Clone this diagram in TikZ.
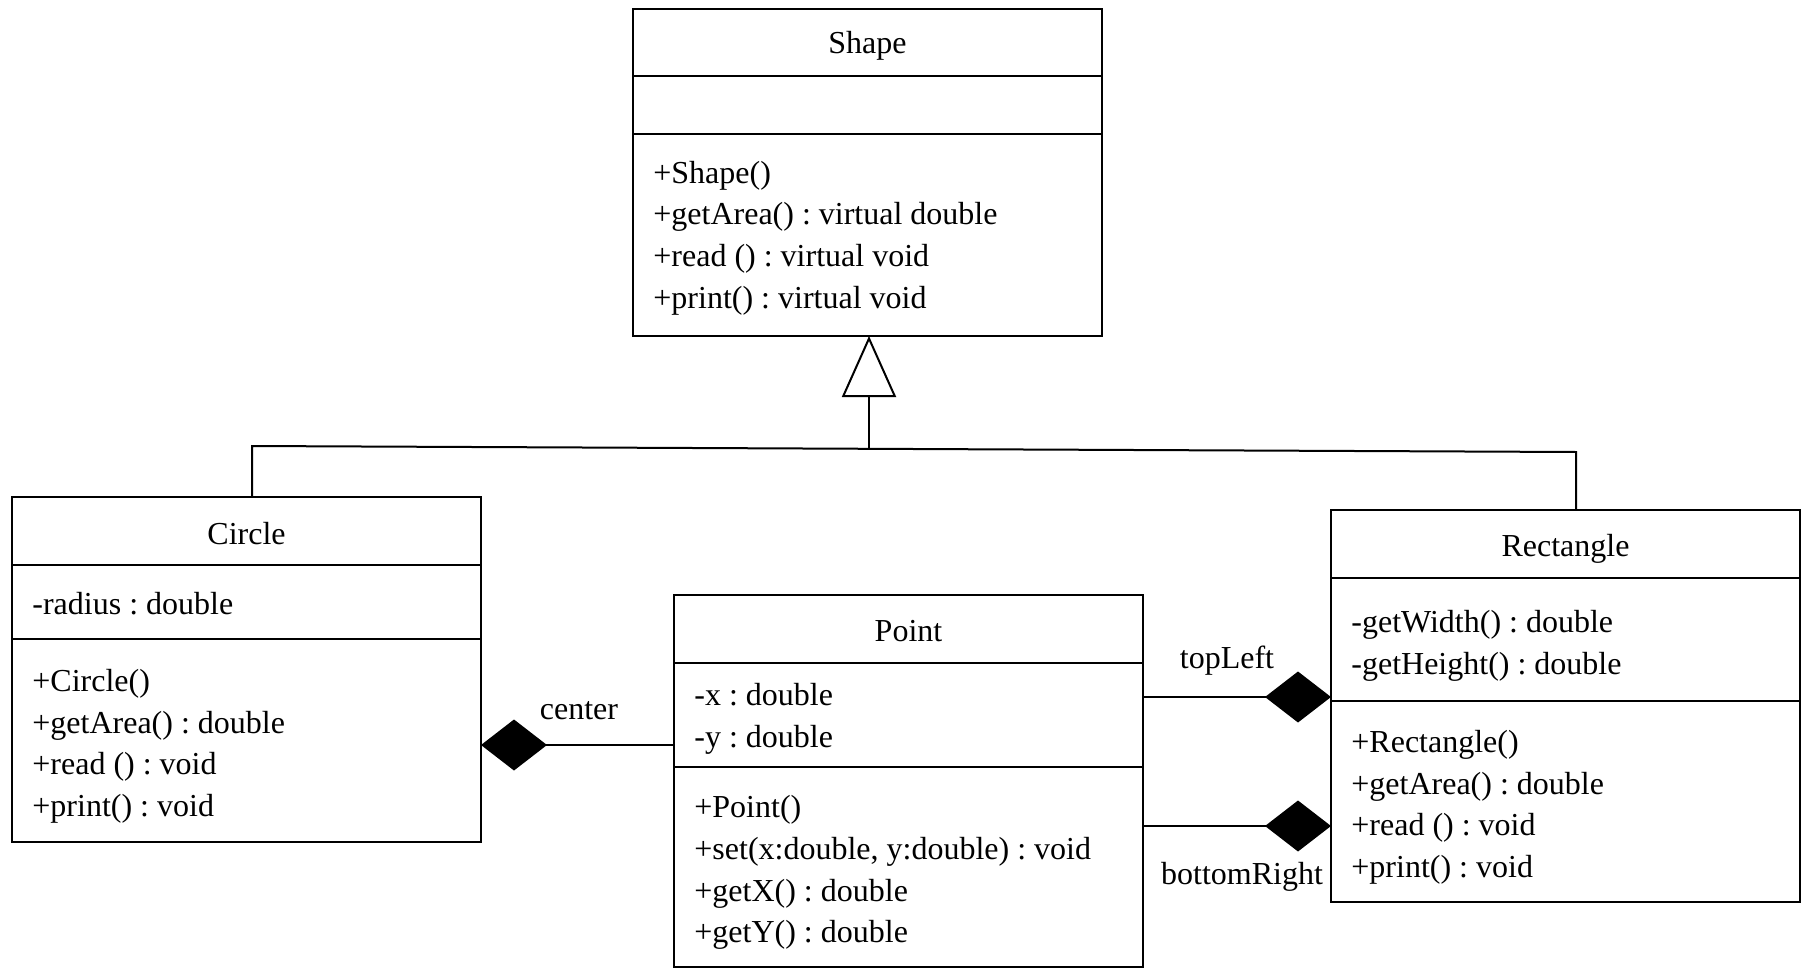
\documentclass[tikz,border=0pt]{standalone}
\usepackage{fontspec}
\setmainfont{Liberation Serif}
\usetikzlibrary{arrows.meta}
\tikzset{
  comp/.style={draw, line width=1pt, minimum width=234.5pt, anchor=north west,
    inner sep=0pt, outer sep=0pt},
  txt/.style={inner sep=0pt, font=\fontsize{16}{20.8}\selectfont\frenchspacing},
  titletext/.style={txt, align=center},
  bodytext/.style={txt, align=left, anchor=west},
  lbl/.style={txt},
  conn/.style={line width=1pt},
  compo/.style={conn, {Diamond[length=33pt,width=25.5pt,fill=black]}-},
  inherit/.style={conn, -{Triangle[open,length=30.5pt,width=27pt,line width=1pt]}}
}
\begin{document}
\begin{tikzpicture}[x=0.5pt,y=-0.5pt]
\useasboundingbox (0,0) rectangle (1811,969);
% Shape
\node[comp, minimum height=33.5pt] (shapeT) at (633,9) {};
\node[comp, minimum height=29pt] (shapeA) at (633,76) {};
\node[comp, minimum height=101pt] (shapeM) at (633,134) {};
\node[titletext] (shapeTt) at ([yshift=-1.5pt]shapeT.center) {Shape};
\node[bodytext] (shapeMt) at ([xshift=10pt,yshift=-1.5pt]shapeM.west) {+Shape()\\+getArea() : virtual double\\+read () : virtual void\\+print() : virtual void};
% Circle
\node[comp, minimum height=34pt] (circleT) at (12,497) {};
\node[comp, minimum height=37pt] (circleA) at (12,565) {};
\node[comp, minimum height=101.5pt] (circleM) at (12,639) {};
\node[titletext] (circleTt) at ([yshift=-1.2pt]circleT.center) {Circle};
\node[bodytext] (circleAt) at ([xshift=10pt,yshift=-1pt]circleA.west) {-radius : double};
\node[bodytext] (circleMt) at ([xshift=10pt,yshift=-2.8pt]circleM.west) {+Circle()\\+getArea() : double\\+read () : void\\+print() : void};
% Point
\node[comp, minimum height=34pt] (pointT) at (674,595) {};
\node[comp, minimum height=52pt] (pointA) at (674,663) {};
\node[comp, minimum height=100pt] (pointM) at (674,767) {};
\node[titletext] (pointTt) at ([yshift=-0.8pt]pointT.center) {Point};
\node[bodytext] (pointAt) at ([xshift=10pt,yshift=-1.8pt]pointA.west) {-x : double\\-y : double};
\node[bodytext] (pointMt) at ([xshift=10pt,yshift=-2.8pt]pointM.west) {+Point()\\+set(x:double, y:double) : void\\+getX() : double\\+getY() : double};
% Rectangle
\node[comp, minimum height=34pt] (rectT) at (1331,510) {};
\node[comp, minimum height=61.5pt] (rectA) at (1331,578) {};
\node[comp, minimum height=100.5pt] (rectM) at (1331,701) {};
\node[titletext] (rectTt) at ([yshift=-2.2pt]rectT.center) {Rectangle};
\node[bodytext] (rectAt) at ([xshift=10pt,yshift=-3.2pt]rectA.west) {-getWidth() : double\\-getHeight() : double};
\node[bodytext] (rectMt) at ([xshift=10pt,yshift=-2.8pt]rectM.west) {+Rectangle()\\+getArea() : double\\+read () : void\\+print() : void};
% inheritance
\coordinate (jl) at (252,446);
\coordinate (jr) at (1576,452);
\coordinate (jm) at (869,449);
\draw[conn] (jl |- circleT.north) -- (jl) -- (jr) -- (jr |- rectT.north);
\draw[inherit] (jm) -- (shapeM.south -| jm);
% compositions
\coordinate (cy) at (0,745);
\coordinate (ty) at (0,697);
\coordinate (by) at (0,826);
\draw[compo] (circleM.east |- cy) -- (pointA.west |- cy);
\draw[compo] (rectA.west |- ty) -- (pointA.east |- ty);
\draw[compo] (rectM.west |- by) -- (pointM.east |- by);
\node[lbl] (lcenter) at (579,711) {center};
\node[lbl] (ltop) at (1227,661) {topLeft};
\node[lbl] (lbottom) at (1242,877) {bottomRight};
\end{tikzpicture}
\end{document}
